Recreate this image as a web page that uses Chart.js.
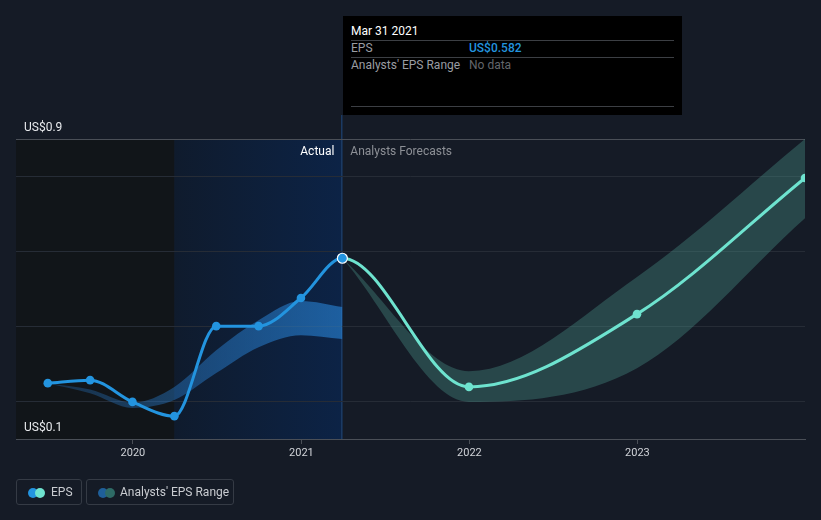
<!DOCTYPE html>
<html>
<head>
<meta charset="utf-8">
<script src="https://cdn.jsdelivr.net/npm/chart.js@4.4.0/dist/chart.umd.min.js"></script>
<style>
  html, body { margin:0; padding:0; background:#151b26; }
  body { width:821px; height:520px; position:relative; overflow:hidden; font-family: Roboto, "Noto Sans", sans-serif; }
  #c { position:absolute; left:0; top:0; }
  .tt { position:absolute; left:343px; top:16px; width:339px; height:99px; background:#000; }
  .tt .row { position:absolute; left:8px; right:8px; font-size:12px; }
  .tt .sep { position:absolute; left:8px; right:8px; height:1px; background:#3c3f44; }
  .leg { position:absolute; top:479px; height:26px; border:1px solid #353b45; border-radius:3px; box-sizing:border-box; }
  .leg span.t { position:absolute; top:5px; font-size:12px; color:#c9ccd1; }
  .dot { position:absolute; top:8px; width:10px; height:10px; border-radius:50%; }
</style>
</head>
<body>
<canvas id="c" width="821" height="520"></canvas>

<div class="tt">
  <div class="row" style="top:8px;color:#fff;">Mar 31 2021</div>
  <div class="sep" style="top:24px;"></div>
  <div class="row" style="top:25px;color:#9a9da3;">EPS<span style="position:absolute;left:118px;color:#2394df;font-weight:500;">US$0.582</span></div>
  <div class="sep" style="top:41px;"></div>
  <div class="row" style="top:42px;color:#9a9da3;">Analysts' EPS Range<span style="position:absolute;left:118px;color:#63666b;">No data</span></div>
  <div class="sep" style="top:90px;"></div>
</div>

<div class="leg" style="left:16px;width:66px;">
  <div class="dot" style="left:11px;background:#2394df;"></div>
  <div class="dot" style="left:18px;background:#6ee3cf;"></div>
  <span class="t" style="left:34px;">EPS</span>
</div>
<div class="leg" style="left:86px;width:148px;">
  <div class="dot" style="left:11px;background:#1f5f99;"></div>
  <div class="dot" style="left:18px;background:#2e6b66;"></div>
  <span class="t" style="left:33px;">Analysts' EPS Range</span>
</div>

<script>
// ---- data ----
const epsDates = ['2019-06-30','2019-09-30','2019-12-31','2020-03-31','2020-06-30','2020-09-30','2020-12-31','2021-03-31','2021-12-31','2022-12-31','2023-12-31'];
const epsValues = [0.249, 0.257, 0.199, 0.161, 0.401, 0.401, 0.476, 0.582, 0.239, 0.433, 0.796];
const lastActualIndex = 7;

const pastRangeDates = ['2019-06-30','2019-09-30','2019-12-31','2020-03-31','2020-06-30','2020-09-30','2020-12-31','2021-03-31'];
const pastRangeHigh = [0.249, 0.232, 0.197, 0.239, 0.337, 0.417, 0.468, 0.452];
const pastRangeLow  = [0.249, 0.222, 0.183, 0.204, 0.276, 0.345, 0.377, 0.367];

const fcRangeDates = ['2021-03-31','2021-12-31','2022-12-31','2023-12-31'];
const fcRangeHigh = [0.582, 0.281, 0.532, 0.900];
const fcRangeLow  = [0.582, 0.199, 0.289, 0.689];

const xTickYears = [2020, 2021, 2022, 2023];
const yTickLabels = [{v:0.9, t:'US$0.9'}, {v:0.1, t:'US$0.1'}];
const yGridValues = [0.1, 0.2, 0.4, 0.6, 0.8, 0.9];

const xMin = Date.UTC(2019, 3, 22);
const xMax = Date.UTC(2023, 11, 31);
const highlightStart = '2020-03-31';
const highlightEnd = '2021-03-31';

const ts = s => Date.parse(s + 'T00:00:00Z');
const pts = (d, v) => d.map((s, i) => ({x: ts(s), y: v[i]}));

const BLUE = '#2394df', TEAL = '#6ee3cf';

const bgPlugin = {
  id: 'bg',
  beforeDraw(chart) {
    const {ctx, chartArea: a, scales: {x}} = chart;
    ctx.save();
    ctx.fillStyle = '#151b26';
    ctx.fillRect(0, 0, chart.width, chart.height);
    const hs = x.getPixelForValue(ts(highlightStart));
    const he = x.getPixelForValue(ts(highlightEnd));
    ctx.fillStyle = '#111519';
    ctx.fillRect(a.left, a.top, hs - a.left, a.bottom - a.top);
    const g = ctx.createLinearGradient(hs, 0, he, 0);
    g.addColorStop(0, '#0f1b2d');
    g.addColorStop(1, '#0c2346');
    ctx.fillStyle = g;
    ctx.fillRect(hs, a.top, he - hs, a.bottom - a.top);
    // crosshair
    ctx.fillStyle = '#1b3a63';
    ctx.fillRect(Math.round(he) - 1, 115, 1.5, a.bottom - 115);
    ctx.restore();
  },
  afterDraw(chart) {
    const {ctx, chartArea: a, scales: {x, y}} = chart;
    ctx.save();
    ctx.font = '12px Roboto, sans-serif';
    ctx.textBaseline = 'middle';
    ctx.fillStyle = '#e8eaed';
    ctx.textAlign = 'left';
    yTickLabels.forEach(l => {
      ctx.fillText(l.t, 24, y.getPixelForValue(l.v) - 11);
    });
    const he = x.getPixelForValue(ts(highlightEnd));
    ctx.textAlign = 'right';
    ctx.fillStyle = '#ffffff';
    ctx.fillText('Actual', he - 8, a.top + 13);
    ctx.textAlign = 'left';
    ctx.fillStyle = '#8d9096';
    ctx.fillText('Analysts Forecasts', he + 8, a.top + 13);
    ctx.restore();
  }
};

const ptColors = epsValues.map((v, i) => i <= lastActualIndex ? BLUE : TEAL);
const ptRadius = epsValues.map((v, i) => i === lastActualIndex ? 5 : 4.3);
const ptBorder = epsValues.map((v, i) => i === lastActualIndex ? '#ffffff' : (i < lastActualIndex ? BLUE : TEAL));
const ptBorderW = epsValues.map((v, i) => i === lastActualIndex ? 1.2 : 0);

new Chart(document.getElementById('c'), {
  type: 'line',
  data: {
    datasets: [
      {
        label: 'EPS',
        data: pts(epsDates, epsValues),
        borderWidth: 3,
        cubicInterpolationMode: 'monotone',
        segment: { borderColor: c => c.p0DataIndex >= lastActualIndex ? TEAL : BLUE },
        borderColor: BLUE,
        pointBackgroundColor: ptColors,
        pointBorderColor: ptBorder,
        pointBorderWidth: ptBorderW,
        pointRadius: ptRadius,
        fill: false,
        order: 0
      },
      {
        data: pts(pastRangeDates, pastRangeHigh),
        borderWidth: 0, pointRadius: 0, cubicInterpolationMode: 'monotone', fill: false, order: 1
      },
      {
        data: pts(pastRangeDates, pastRangeLow),
        borderWidth: 0, pointRadius: 0, cubicInterpolationMode: 'monotone', order: 2,
        fill: '-1',
        backgroundColor: (c) => {
          const ch = c.chart; const a = ch.chartArea;
          if (!a) return 'rgba(40,132,215,0.55)';
          const x = ch.scales.x;
          const g = ch.ctx.createLinearGradient(x.getPixelForValue(ts(pastRangeDates[0])), 0, x.getPixelForValue(ts(highlightEnd)), 0);
          g.addColorStop(0, 'rgba(40,120,200,0.28)');
          g.addColorStop(1, 'rgba(40,132,215,0.62)');
          return g;
        }
      },
      {
        data: pts(fcRangeDates, fcRangeHigh),
        borderWidth: 0, pointRadius: 0, cubicInterpolationMode: 'monotone', fill: false, order: 3
      },
      {
        data: pts(fcRangeDates, fcRangeLow),
        borderWidth: 0, pointRadius: 0, cubicInterpolationMode: 'monotone', order: 4,
        fill: '-1',
        backgroundColor: 'rgba(78,160,150,0.33)'
      }
    ]
  },
  options: {
    responsive: false,
    animation: false,
    events: [],
    layout: { padding: { left: 16, right: 16, top: 139, bottom: 57 } },
    plugins: { legend: { display: false }, tooltip: { enabled: false } },
    scales: {
      x: {
        type: 'linear',
        min: xMin, max: xMax,
        afterFit: s => { s.height = 24; },
        afterBuildTicks: s => { s.ticks = xTickYears.map(yr => ({value: Date.UTC(yr, 0, 1)})); },
        ticks: {
          callback: v => String(new Date(v).getUTCFullYear()),
          color: '#d0d3d8', font: { family: 'Roboto', size: 11 }, padding: 3, maxRotation: 0, autoSkip: false
        },
        grid: { drawOnChartArea: false, drawTicks: true, tickLength: 5, color: '#4a4f57' },
        border: { display: true, color: '#4a4f57', width: 1 }
      },
      y: {
        min: 0.1, max: 0.9,
        afterFit: s => { s.width = 0; },
        afterBuildTicks: s => { s.ticks = yGridValues.map(v => ({value: v})); },
        ticks: { display: false },
        grid: {
          drawTicks: false,
          color: c => c.tick.value >= 0.9 ? '#4a4f57' : (c.tick.value <= 0.1 ? 'rgba(0,0,0,0)' : '#262c36'),
          lineWidth: 1
        },
        border: { display: false }
      }
    }
  },
  plugins: [bgPlugin]
});
</script>
</body>
</html>
